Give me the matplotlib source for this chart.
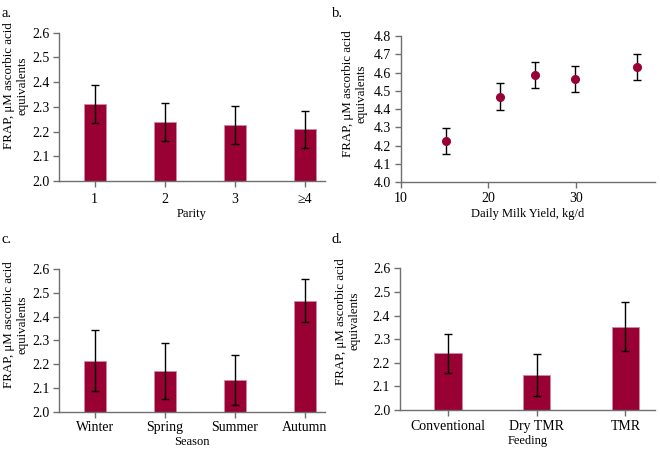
import matplotlib
matplotlib.use("Agg")
import matplotlib.pyplot as plt
import numpy as np

plt.rcParams['font.family'] = ['Liberation Serif', 'DejaVu Serif']

# a. parity
parity = ["1", "2", "3", "\u22654"]
parity_mean = [2.312, 2.240, 2.227, 2.209]
parity_err = [0.077, 0.077, 0.077, 0.076]

# b. daily milk yield
milk = [15.1, 21.3, 25.3, 29.9, 37.0]
milk_mean = [4.226, 4.468, 4.584, 4.566, 4.630]
milk_err = [0.072, 0.072, 0.071, 0.071, 0.072]

# c. season
season = ["Winter", "Spring", "Summer", "Autumn"]
season_mean = [2.215, 2.170, 2.133, 2.467]
season_err = [0.129, 0.117, 0.104, 0.091]

# d. feeding
feeding = ["Conventional", "Dry TMR", "TMR"]
feeding_mean = [2.240, 2.150, 2.353]
feeding_err = [0.082, 0.089, 0.105]

bar_col = '#990033'
spine_col = '#6f6f6f'
ylab = "FRAP, \u03bcM ascorbic acid\nequivalents"

fig = plt.figure(figsize=(6.6, 4.49), dpi=100)

def style(ax, lx, ly):
    for s in ['top', 'right']:
        ax.spines[s].set_visible(False)
    for s in ['left', 'bottom']:
        ax.spines[s].set_color(spine_col)
        ax.spines[s].set_linewidth(1.0)
    ax.tick_params(direction='out', length=4, width=1, color=spine_col,
                   labelsize=10, pad=3)
    ax.set_ylabel(ylab, fontsize=9.3, linespacing=1.15)
    ax.yaxis.label.set_va('center')
    ax.yaxis.set_label_coords(lx, ly)

def bars(ax, cats, means, errs, xlim, lx, ly):
    x = np.arange(1, len(cats) + 1)
    ax.bar(x, np.array(means) - 2.0, bottom=2.0, width=0.31, color=bar_col,
           edgecolor='#d08aa0', linewidth=0.6, zorder=2)
    ax.errorbar(x, means, yerr=errs, fmt='none', ecolor='black',
                elinewidth=1, capsize=3, capthick=1, zorder=3)
    ax.set_xticks(x)
    ax.set_xticklabels(cats)
    ax.set_xlim(*xlim)
    ax.set_ylim(2.0, 2.6)
    ax.set_yticks(np.arange(2.0, 2.61, 0.1))
    ax.set_yticklabels(["%.1f" % v for v in np.arange(2.0, 2.61, 0.1)])
    style(ax, lx, ly)

ax1 = fig.add_axes([0.0894, 0.597, 0.403, 0.330])
bars(ax1, parity, parity_mean, parity_err, (0.49, 4.29), -0.162, 0.64)
ax1.tick_params(axis='x', pad=5)
ax1.set_xlabel("Parity", fontsize=9, labelpad=1)

ax2 = fig.add_axes([0.6076, 0.594, 0.385, 0.326])
ax2.errorbar(milk, milk_mean, yerr=milk_err, fmt='o', color=bar_col,
             markersize=5.5, ecolor='black', elinewidth=1, capsize=2.7,
             capthick=1, zorder=3)
ax2.set_xlim(10, 39.1)
ax2.set_xticks([10, 20, 30])
ax2.set_ylim(4.0, 4.8)
ax2.set_yticks(np.arange(4.0, 4.81, 0.1))
ax2.set_yticklabels(["%.1f" % v for v in np.arange(4.0, 4.81, 0.1)])
style(ax2, -0.183, 0.607)
ax2.set_xlabel("Daily Milk Yield, kg/d", fontsize=9, labelpad=2)

ax3 = fig.add_axes([0.0898, 0.0831, 0.4026, 0.318])
bars(ax3, season, season_mean, season_err, (0.49, 4.29), -0.165, 0.607)
ax3.set_xlabel("Season", fontsize=9, labelpad=1.5)

ax4 = fig.add_axes([0.606, 0.0869, 0.386, 0.3156])
bars(ax4, feeding, feeding_mean, feeding_err, (0.46, 3.33), -0.204, 0.627)
ax4.set_xlabel("Feeding", fontsize=9, labelpad=1.5)

fig.text(0.003, 0.985, "a.", fontsize=10.5, va='top')
fig.text(0.503, 0.985, "b.", fontsize=10.5, va='top')
fig.text(0.003, 0.480, "c.", fontsize=10.5, va='top')
fig.text(0.503, 0.480, "d.", fontsize=10.5, va='top')

fig.savefig("out.png", dpi=100)
